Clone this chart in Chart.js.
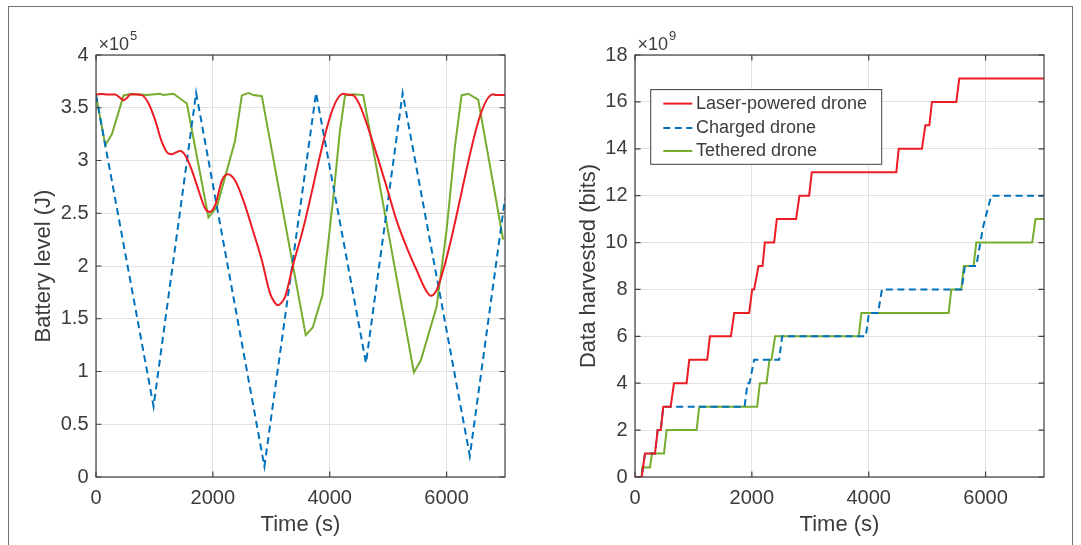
<!DOCTYPE html>
<html><head><meta charset="utf-8">
<script src="https://cdn.jsdelivr.net/npm/chart.js@4.4.1/dist/chart.umd.min.js"></script>
<style>
html,body{margin:0;padding:0;background:#fff;overflow:hidden;}
#wrap{position:relative;width:1081px;height:545px;overflow:hidden;background:#fff;}
#frame{position:absolute;left:8px;top:6px;width:1063px;height:700px;border:1.5px solid #707070;}
#c1{position:absolute;left:0;top:0;}
#c2{position:absolute;left:540px;top:0;}
</style></head><body>
<div id="wrap">
<div id="frame"></div>
<canvas id="c1" width="540" height="545"></canvas>
<canvas id="c2" width="541" height="545"></canvas>
</div>
<script>
// ---------- DATA ----------
// Left chart: battery level (x10^5 J) vs time (s)
const laserBatT = [0,100,200,330,400,472,540,586,700,786,900,1014,1128,1242,1299,1360,1441,1527,1641,1755,1869,1942,2040,2154,2256,2381,2523,2667,2838,2979,3050,3111,3170,3236,3378,3492,4233,4300,4403,4518,4745,4974,5145,5316,5487,5629,5731,5829,5942,6797,6850,7000];
const laserBatV = [3.625,3.63,3.625,3.625,3.60,3.57,3.60,3.625,3.625,3.62,3.54,3.38,3.175,3.065,3.06,3.075,3.09,3.05,2.907,2.718,2.544,2.512,2.576,2.81,2.87,2.81,2.62,2.37,2.055,1.74,1.66,1.629,1.65,1.707,2.02,2.244,3.633,3.625,3.617,3.52,3.16,2.75,2.43,2.18,1.96,1.787,1.717,1.77,1.96,3.627,3.62,3.62];
const chargedBatT = [0,985,1714,2882,3766,4621,5248,6398,7000];
const chargedBatV = [3.62,0.67,3.64,0.10,3.64,1.08,3.64,0.20,2.64];
const tetheredBatT = [0,159,273,472,615,871,1099,1156,1327,1555,1925,2068,2381,2496,2609,2695,2838,3590,3709,3874,4062,4176,4262,4403,4574,5441,5561,5829,6000,6142,6256,6370,6541,6968];
const tetheredBatV = [3.62,3.144,3.25,3.617,3.633,3.62,3.633,3.62,3.633,3.54,2.46,2.56,3.19,3.617,3.64,3.62,3.61,1.345,1.417,1.72,2.654,3.286,3.617,3.627,3.62,0.991,1.108,1.613,2.34,3.128,3.617,3.633,3.577,2.25];

// Right chart: data harvested (x10^9 bits) vs time (s)
const laserDataT = [0,114,171,342,388,441,484,610,667,883,929,1236,1282,1641,1698,1954,2005,2039,2114,2183,2222,2381,2427,2757,2815,2980,3026,4473,4513,4911,4969,5037,5082,5499,5550,7000];
const laserDataV = [0,0,1,1,2,2,3,3,4,4,5,5,6,6,7,7,8,8,9,9,10,10,11,11,12,12,13,13,14,14,15,15,16,16,17,17];
const chargedDataT = [0,114,171,342,388,441,484,1875,1926,1960,2039,2467,2518,3949,4005,4159,4227,5590,5647,5841,5960,6097,7000];
const chargedDataV = [0,0,1,1,2,2,3,3,4,4,5,5,6,6,7,7,8,8,9,9,10.7,12,12];
const tetheredDataT = [0,114,125,256,291,496,541,1054,1100,2091,2137,2251,2302,2336,2398,3829,3875,5368,5414,5584,5629,5795,5841,6798,6855,7000];
const tetheredDataV = [0,0,0.4,0.4,1,1,2,2,3,3,4,4,5,5,6,6,7,7,8,8,9,9,10,10,11,11];

const seriesNames = ['Laser-powered drone','Charged drone','Tethered drone'];
const timeTicks = [0,2000,4000,6000];
const batteryTicks = [0,0.5,1,1.5,2,2.5,3,3.5,4];
const dataTicks = [0,2,4,6,8,10,12,14,16,18];

// ---------- STYLE ----------
const FONT = '"Liberation Sans", Arial, Helvetica, sans-serif';
const TEXT = '#3c3c3c';
const AXIS = '#404040';
const GRID = '#e2e2e2';
const RED = '#ec1c24';
const BLUE = '#0072BD';
const GREEN = '#77AC30';

function pts(t, v){ return t.map((x,i)=>({x:x, y:v[i]})); }

function boxPlugin(expText){ return {
  id:'matlabBox',
  afterDatasetsDraw(chart){
    const {ctx, chartArea:a, scales:{x,y}} = chart;
    ctx.save();
    ctx.strokeStyle = AXIS; ctx.lineWidth = 1.2;
    const L = 5.5;
    ctx.beginPath();
    x.ticks.forEach(t=>{ const p = x.getPixelForValue(t.value);
      ctx.moveTo(p,a.bottom); ctx.lineTo(p,a.bottom-L);
      ctx.moveTo(p,a.top); ctx.lineTo(p,a.top+L); });
    y.ticks.forEach(t=>{ const p = y.getPixelForValue(t.value);
      ctx.moveTo(a.left,p); ctx.lineTo(a.left+L,p);
      ctx.moveTo(a.right,p); ctx.lineTo(a.right-L,p); });
    ctx.stroke();
    ctx.strokeRect(a.left, a.top, a.right-a.left, a.bottom-a.top);
    ctx.fillStyle = TEXT;
    ctx.textAlign='left'; ctx.textBaseline='alphabetic';
    ctx.font = '18px '+FONT;
    const base = '\u00D710';
    ctx.fillText(base, a.left+2.5, a.top-4.8);
    const w = ctx.measureText(base).width;
    ctx.font = '13px '+FONT;
    ctx.fillText(expText, a.left+2.5+w+1, a.top-15);
    ctx.restore();
  }
};}

const legendPlugin = {
  id:'insideLegend',
  afterDraw(chart){
    const {ctx, chartArea:a} = chart;
    ctx.save();
    const bx = a.left+15.7, by = a.top+34.6, bw = 231, bh = 74.7;
    ctx.fillStyle = '#fff'; ctx.fillRect(bx,by,bw,bh);
    ctx.strokeStyle = AXIS; ctx.lineWidth = 1; ctx.strokeRect(bx,by,bw,bh);
    const rows = [48.6, 73, 96];
    chart.data.datasets.forEach((ds,i)=>{
      const yy = a.top + rows[i];
      ctx.strokeStyle = ds.borderColor; ctx.lineWidth = 2;
      ctx.setLineDash(ds.borderDash || []);
      ctx.beginPath(); ctx.moveTo(a.left+28.3, yy); ctx.lineTo(a.left+57.3, yy); ctx.stroke();
      ctx.setLineDash([]);
      ctx.fillStyle = TEXT; ctx.font = '18px '+FONT;
      ctx.textAlign='left'; ctx.textBaseline='middle';
      ctx.fillText(ds.label, a.left+61, yy+0.5);
    });
    ctx.restore();
  }
};

function makeDatasets(laser, charged, tethered, smoothLaser){
  return [
    {label:seriesNames[0], data:laser, borderColor:RED, borderWidth:2, pointRadius:0, fill:false,
     tension:0, cubicInterpolationMode: smoothLaser ? 'monotone' : 'default'},
    {label:seriesNames[1], data:charged, borderColor:BLUE, borderWidth:2, pointRadius:0, fill:false,
     tension:0, borderDash:[7,4.5]},
    {label:seriesNames[2], data:tethered, borderColor:GREEN, borderWidth:2, pointRadius:0, fill:false, tension:0}
  ];
}

function axisOpts(opt){
  return {
    responsive:false, animation:false, devicePixelRatio:1,
    layout:{padding:{left:0,right:opt.padRight,top:55,bottom:0}},
    plugins:{legend:{display:false}, tooltip:{enabled:false}},
    scales:{
      x:{type:'linear', min:0, max:7000,
         afterBuildTicks(s){ s.ticks = timeTicks.map(v=>({value:v})); },
         ticks:{padding:9, color:TEXT, font:{family:FONT,size:20}, maxRotation:0, callback:v=>String(v)},
         grid:{color:GRID, lineWidth:1, drawTicks:false},
         border:{display:false},
         title:{display:true, text:'Time (s)', color:TEXT, font:{family:FONT,size:22}, padding:{top:0,bottom:7}},
         afterFit(s){ s.height = 68; }},
      y:{type:'linear', min:opt.ymin, max:opt.ymax,
         afterBuildTicks(s){ s.ticks = opt.yticks.map(v=>({value:v})); },
         ticks:{padding:7.5, color:TEXT, font:{family:FONT,size:20}, callback:v=>String(v)},
         grid:{color:GRID, lineWidth:1, drawTicks:false},
         border:{display:false},
         title:{display:true, text:opt.ytitle, color:TEXT, font:{family:FONT,size:22}, padding:{top:opt.ytitlePad,bottom:0}},
         afterFit(s){ s.width = opt.yw; }}
    }
  };
}

new Chart(document.getElementById('c1'), {
  type:'line',
  data:{datasets:makeDatasets(pts(laserBatT,laserBatV), pts(chargedBatT,chargedBatV), pts(tetheredBatT,tetheredBatV), true)},
  options:axisOpts({padRight:35, ymin:0, ymax:4, yticks:batteryTicks, ytitle:'Battery level (J)', ytitlePad:31, yw:96}),
  plugins:[boxPlugin('5')]
});

new Chart(document.getElementById('c2'), {
  type:'line',
  data:{datasets:makeDatasets(pts(laserDataT,laserDataV), pts(chargedDataT,chargedDataV), pts(tetheredDataT,tetheredDataV), false)},
  options:axisOpts({padRight:37, ymin:0, ymax:18, yticks:dataTicks, ytitle:'Data harvested (bits)', ytitlePad:36, yw:95}),
  plugins:[boxPlugin('9'), legendPlugin]
});
</script>
</body></html>
